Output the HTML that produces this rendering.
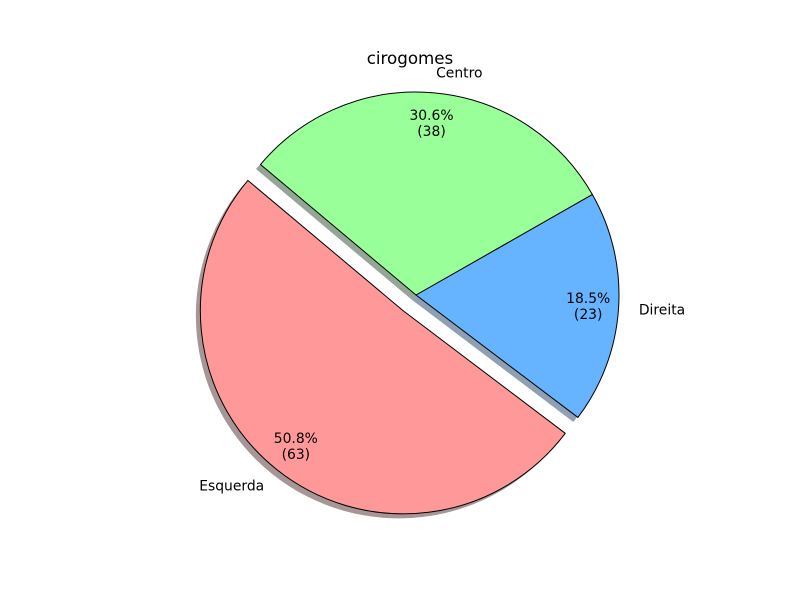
<!DOCTYPE html>
<html><head><meta charset="utf-8"><style>
html,body{margin:0;padding:0;background:#fff;}
svg{display:block;font-family:"DejaVu Sans","Liberation Sans",sans-serif;}
</style></head><body>
<svg id="chart" width="800" height="600" viewBox="0 0 800 600">
<rect width="800" height="600" fill="#fff"/>
<text x="410" y="64" font-size="16.7" text-anchor="middle">cirogomes</text>
<g id="shadows"></g><g id="wedges"></g><g id="labels"></g>
</svg>
<script>
const categories = ["Esquerda", "Direita", "Centro"];
const values = [63, 23, 38];
const colors = ["#ff9999", "#66b3ff", "#99ff99"];
const shadowColors = ["#a69696", "#8fa0b3", "#96a696"];
const explode = [0.1, 0, 0];
const startAngle = 140;

const cx = 416, cy = 295, R = 203, NS = "http://www.w3.org/2000/svg";
const total = values.reduce((a, b) => a + b, 0);
const pt = (x, y, a, r) => [x + r * Math.cos(a * Math.PI / 180), y - r * Math.sin(a * Math.PI / 180)];
function wedgePath(x, y, a1, a2) {
  const p1 = pt(x, y, a1, R), p2 = pt(x, y, a2, R);
  const large = (a2 - a1) > 180 ? 1 : 0;
  return `M${x},${y} L${p1[0]},${p1[1]} A${R},${R} 0 ${large} 0 ${p2[0]},${p2[1]} Z`;
}
const sg = document.getElementById("shadows"), wg = document.getElementById("wedges"), lg = document.getElementById("labels");
let a = startAngle;
values.forEach((v, i) => {
  const span = v / total * 360, mid = a + span / 2;
  const [x, y] = pt(cx, cy, mid, explode[i] * R);
  const sh = document.createElementNS(NS, "path");
  sh.setAttribute("d", wedgePath(x - 4.5, y + 4.5, a, a + span));
  sh.setAttribute("fill", shadowColors[i]);
  
  
  sg.appendChild(sh);
  const w = document.createElementNS(NS, "path");
  w.setAttribute("d", wedgePath(x, y, a, a + span));
  w.setAttribute("fill", colors[i]);
  w.setAttribute("stroke", "#000");
  w.setAttribute("stroke-width", "1");
  w.setAttribute("stroke-linejoin", "round");
  
  
  wg.appendChild(w);
  const [lx, ly] = pt(x, y, mid, 1.1 * R);
  const t = document.createElementNS(NS, "text");
  t.setAttribute("x", lx); t.setAttribute("y", ly + 5);
  t.setAttribute("font-size", "13.9");
  t.setAttribute("text-anchor", Math.cos(mid * Math.PI / 180) < 0 ? "end" : "start");
  t.textContent = categories[i];
  
  
  lg.appendChild(t);
  const [px, py] = pt(x, y, mid, 0.85 * R);
  const p = document.createElementNS(NS, "text");
  p.setAttribute("font-size", "13.9");
  p.setAttribute("text-anchor", "middle");
  
  
  const t1 = document.createElementNS(NS, "tspan");
  t1.setAttribute("x", px); t1.setAttribute("y", py - 3);
  t1.textContent = (v / total * 100).toFixed(1) + "%";
  const t2 = document.createElementNS(NS, "tspan");
  t2.setAttribute("x", px); t2.setAttribute("y", py + 13);
  t2.textContent = "(" + v + ")";
  p.appendChild(t1); p.appendChild(t2);
  lg.appendChild(p);
  a += span;
});
</script>
</body></html>
